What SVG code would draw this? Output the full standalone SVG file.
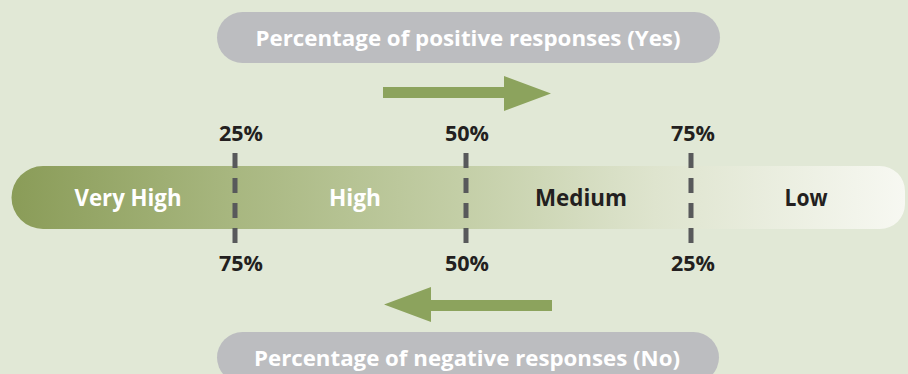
<svg xmlns="http://www.w3.org/2000/svg" width="908" height="374" viewBox="0 0 908 374">
<defs>
<linearGradient id="barGrad" x1="11" y1="0" x2="905" y2="0" gradientUnits="userSpaceOnUse">
<stop offset="0" stop-color="#8a9c58"/>
<stop offset="0.25" stop-color="#a8b780"/>
<stop offset="0.5" stop-color="#c3cea6"/>
<stop offset="0.72" stop-color="#dee4ce"/>
<stop offset="1" stop-color="#f7f8f2"/>
</linearGradient>
<style>
.pill{fill:#bcbdc0}
.pilltxt{font-family:"Open Sans","Liberation Sans",sans-serif;font-weight:700;font-size:22px;fill:#ffffff;text-anchor:middle}
.bartxt{font-family:"Open Sans","Liberation Sans",sans-serif;font-weight:700;font-size:24px;text-anchor:middle}
.pct{font-family:"Open Sans","Liberation Sans",sans-serif;font-weight:700;font-size:22px;fill:#231f20;text-anchor:middle}
.dash{stroke:#58595b;stroke-width:5;stroke-dasharray:15 10;fill:none}
.arrow{fill:#8ca35d}
</style>
</defs>
<rect width="908" height="374" fill="#e1e8d6"/>
<g id="bar">
<path d="M43,166 H880 A25,25 0 0 1 905,191 V204 A25,25 0 0 1 880,229 H43 A31.5,31.5 0 0 1 43,166 Z" fill="url(#barGrad)"/>
<text class="bartxt" x="128" y="206" fill="#ffffff" textLength="107" lengthAdjust="spacingAndGlyphs">Very High</text>
<text class="bartxt" x="355" y="206" fill="#ffffff" textLength="52" lengthAdjust="spacingAndGlyphs">High</text>
<text class="bartxt" x="581" y="206" fill="#231f20" textLength="92" lengthAdjust="spacingAndGlyphs">Medium</text>
<text class="bartxt" x="806" y="206" fill="#231f20" textLength="43" lengthAdjust="spacingAndGlyphs">Low</text>
</g>
<g id="positive-label">
<rect class="pill" x="217" y="12" width="503" height="51" rx="25.5"/>
<text class="pilltxt" x="468" y="46" textLength="425" lengthAdjust="spacingAndGlyphs">Percentage of positive responses (Yes)</text>
</g>
<g id="negative-label">
<rect class="pill" x="217" y="332" width="502" height="51" rx="25.5"/>
<text class="pilltxt" x="467" y="366" textLength="426" lengthAdjust="spacingAndGlyphs">Percentage of negative responses (No)</text>
</g>
<g id="dividers">
<line class="dash" x1="235" y1="153" x2="235" y2="243"/>
<line class="dash" x1="466" y1="153" x2="466" y2="243"/>
<line class="dash" x1="691" y1="153" x2="691" y2="243"/>
</g>
<g id="top-percentages">
<text class="pct" x="241" y="141" textLength="44" lengthAdjust="spacingAndGlyphs">25%</text>
<text class="pct" x="467" y="141" textLength="44" lengthAdjust="spacingAndGlyphs">50%</text>
<text class="pct" x="693" y="141" textLength="44" lengthAdjust="spacingAndGlyphs">75%</text>
</g>
<g id="bottom-percentages">
<text class="pct" x="241" y="271" textLength="44" lengthAdjust="spacingAndGlyphs">75%</text>
<text class="pct" x="467" y="271" textLength="44" lengthAdjust="spacingAndGlyphs">50%</text>
<text class="pct" x="693" y="271" textLength="44" lengthAdjust="spacingAndGlyphs">25%</text>
</g>
<g id="connectors">
<polygon class="arrow" points="383,87 504,87 504,76 551,93.5 504,111 504,98 383,98"/>
<polygon class="arrow" points="552,300 431,300 431,287 384,304.5 431,322 431,311 552,311"/>
</g>
</svg>
